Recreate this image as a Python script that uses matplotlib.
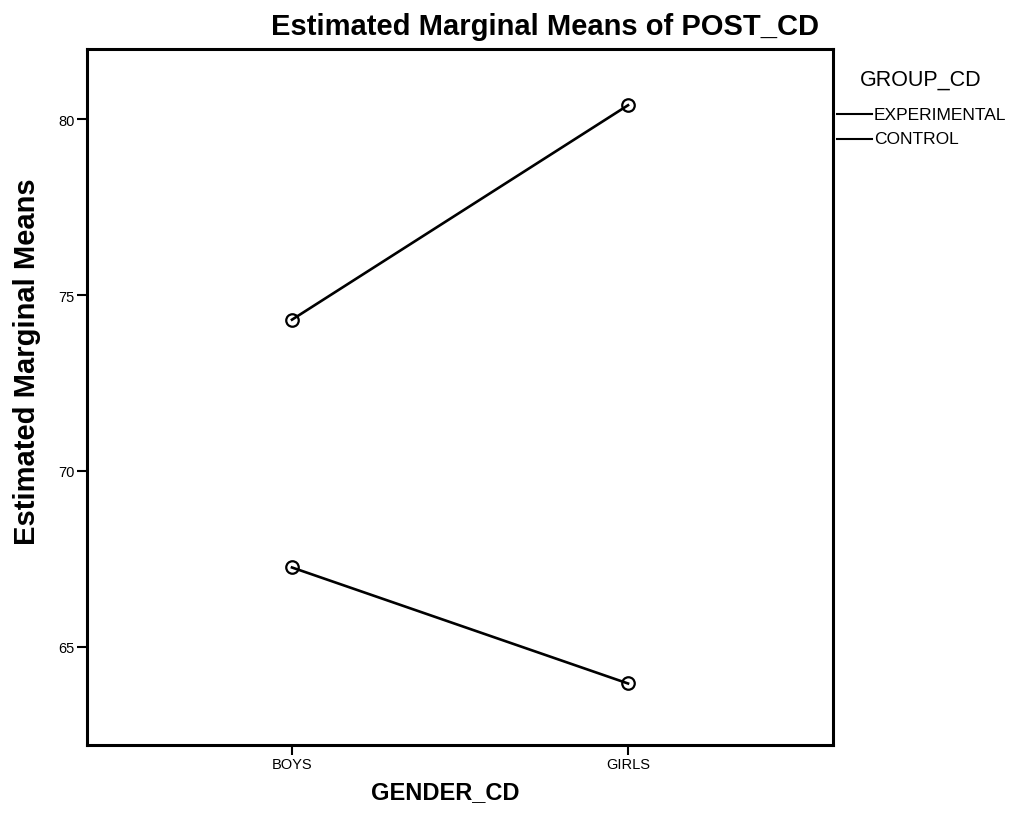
import matplotlib
matplotlib.use("Agg")
import matplotlib.pyplot as plt

categories = ["BOYS", "GIRLS"]
groups = ["EXPERIMENTAL", "CONTROL"]
experimental = [74.3, 80.4]
control = [67.25, 63.95]
yticks = [65, 70, 75, 80]

plt.rcParams['font.family'] = ['Liberation Sans', 'DejaVu Sans']

fig = plt.figure(figsize=(10.12, 8.29), dpi=100)
ax = fig.add_axes([87/1012, 1 - 746/829, (833-87)/1012, (746-50)/829])

x = list(range(len(categories)))
for vals in (experimental, control):
    ax.plot(x, vals, color='black', lw=1.9, marker='o', ms=9,
            mfc='none', mec='black', mew=1.6)

ax.set_xlim(-0.61, 1.61)
ax.set_ylim(62.2, 82.0)
ax.set_xticks(x)
ax.set_xticklabels(categories, fontsize=10.5)
ax.set_yticks(yticks)
ax.set_yticklabels([str(v) for v in yticks], fontsize=10.5)
ax.tick_params(direction='out', length=7, width=1.5, pad=2)
for s in ax.spines.values():
    s.set_linewidth(2.2)

fig.text(545/1012, 1 - 27/829, "Estimated Marginal Means of POST_CD",
         ha='center', va='center', fontsize=21, fontweight='bold')
fig.text(27/1012, 1 - 362/829, "Estimated Marginal Means", rotation=90,
         ha='center', va='center', fontsize=21, fontweight='bold')
fig.text(445/1012, 1 - 793/829, "GENDER_CD",
         ha='center', va='center', fontsize=17, fontweight='bold')

# legend
fig.text(860/1012, 1 - 80/829, "GROUP_CD", ha='left', va='center', fontsize=15.5)
for i, (g, yy) in enumerate(zip(groups, [115, 140])):
    fig.add_artist(plt.Line2D([837/1012, 872/1012], [1 - yy/829, 1 - yy/829],
                              color='black', lw=1.5))
    fig.text(874/1012, 1 - yy/829, g, ha='left', va='center', fontsize=12.5)

fig.savefig("out.png", dpi=100)
